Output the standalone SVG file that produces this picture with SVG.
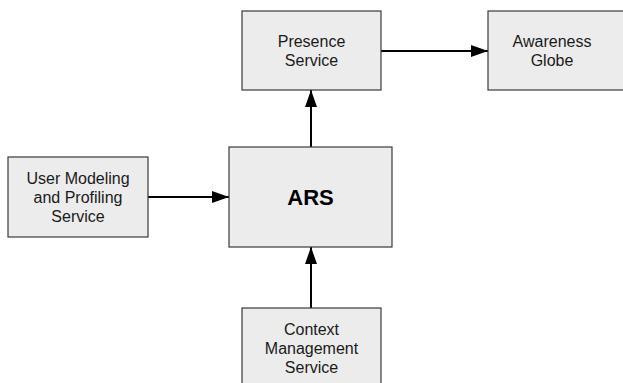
<svg xmlns="http://www.w3.org/2000/svg" width="623" height="383" viewBox="0 0 623 383">
<style>
.box{fill:#ececec;stroke:#3a3a3a;stroke-width:1.2}
.t{font-family:"Liberation Sans",Arial,sans-serif;font-size:16px;fill:#1a1a1a;text-anchor:middle}
.b{font-family:"Liberation Sans",Arial,sans-serif;font-size:22px;font-weight:bold;fill:#000;text-anchor:middle}
.c{stroke:#000;stroke-width:2;fill:none}
</style>
<defs>
<marker id="ah" markerWidth="17" markerHeight="12" refX="17" refY="6" orient="auto" markerUnits="userSpaceOnUse">
<path d="M0,0 L17,6 L0,12 Z" fill="#000"/>
</marker>
</defs>
<rect width="623" height="383" fill="#fff"/>
<g id="connectors">
<line class="c" x1="381" y1="51" x2="488" y2="51" marker-end="url(#ah)"/>
<line class="c" x1="311" y1="147" x2="311" y2="90" marker-end="url(#ah)"/>
<line class="c" x1="148" y1="197" x2="229" y2="197" marker-end="url(#ah)"/>
<line class="c" x1="311" y1="308" x2="311" y2="247" marker-end="url(#ah)"/>
</g>
<g id="presence">
<rect class="box" x="242" y="11" width="139" height="79"/>
<text class="t" x="311.5" y="46.5">Presence</text>
<text class="t" x="311.5" y="65.5">Service</text>
</g>
<g id="awareness">
<rect class="box" x="488" y="11" width="140" height="79"/>
<text class="t" x="552" y="46.5">Awareness</text>
<text class="t" x="552" y="65.5">Globe</text>
</g>
<g id="user">
<rect class="box" x="8" y="157" width="140" height="80"/>
<text class="t" x="78" y="183.5">User Modeling</text>
<text class="t" x="78" y="202.5">and Profiling</text>
<text class="t" x="78" y="221.5">Service</text>
</g>
<g id="ars">
<rect class="box" x="229" y="147" width="163" height="100"/>
<text class="b" x="310.5" y="205">ARS</text>
</g>
<g id="context">
<rect class="box" x="242" y="308" width="139" height="90"/>
<text class="t" x="311.5" y="334.5">Context</text>
<text class="t" x="311.5" y="353.5">Management</text>
<text class="t" x="311.5" y="372.5">Service</text>
</g>
</svg>
